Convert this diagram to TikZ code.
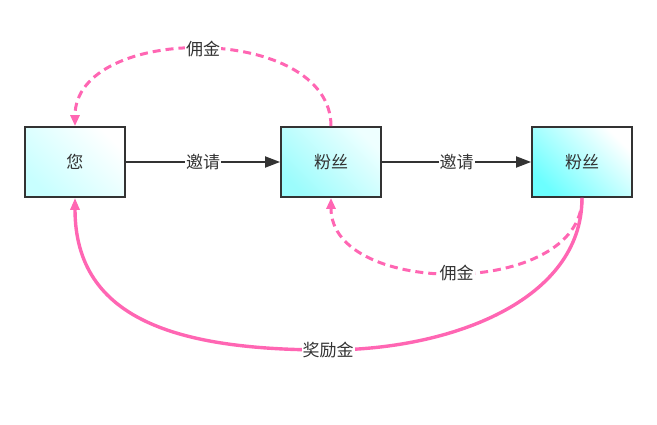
\documentclass[tikz,border=0pt]{standalone}
\usepackage{fontspec}
\setmainfont{Noto Sans CJK SC}
\usetikzlibrary{arrows.meta}
\definecolor{txt}{HTML}{333333}
\definecolor{pinkc}{HTML}{FF66B3}
\definecolor{cyA}{HTML}{C8FFFF}
\definecolor{cyB}{HTML}{9CFCFC}
\definecolor{cyC}{HTML}{6CFFFF}
\definecolor{whB}{HTML}{EEFFFF}
\begin{document}
\begin{tikzpicture}[x=1pt,y=-1pt,
  box/.style={draw=txt,line width=1.8pt,minimum width=100pt,minimum height=70pt,inner sep=0pt,
    font=\fontsize{17}{19}\selectfont,text=txt},
  lbl/.style={fill=white,inner sep=1pt,font=\fontsize{17}{19}\selectfont,text=txt},
  inv/.style={draw=txt,line width=1.8pt,-{Triangle[length=15pt,width=11pt]}},
  comm/.style={draw=pinkc,line width=3pt,dash pattern=on 8pt off 5pt,-{Triangle[length=11pt,width=9pt]}},
  bonus/.style={draw=pinkc,line width=3.4pt,-{Triangle[length=12pt,width=9pt]}}]
\useasboundingbox (0,0) rectangle (657,425);
\node[box,top color=cyA,bottom color=white,shading angle=135] (b1) at (75,162) {您};
\node[box,top color=cyB,bottom color=whB,shading angle=135] (b2) at (331,162) {粉丝};
\node[box,top color=cyC,bottom color=white,shading angle=135] (b3) at (582,162) {粉丝};
\draw[inv] (b1.east) -- node[lbl] {邀请} (b2.west);
\draw[inv] (b2.east) -- node[lbl] {邀请} (b3.west);
\draw[comm] (b2.north) .. controls +(0,-103) and +(0,-103) .. node[lbl,pos=0.5] {佣金} (b1.north);
\draw[comm] (b3.south) .. controls +(0,100) and +(0,100) .. node[lbl,pos=0.5] {佣金} (b2.south);
\draw[bonus] (b3.south) .. controls +(0,103) and +(122,0) .. (328,350) node[lbl] {奖励金}
  .. controls +(-148,0) and +(0,123) .. (b1.south);
\end{tikzpicture}
\end{document}
